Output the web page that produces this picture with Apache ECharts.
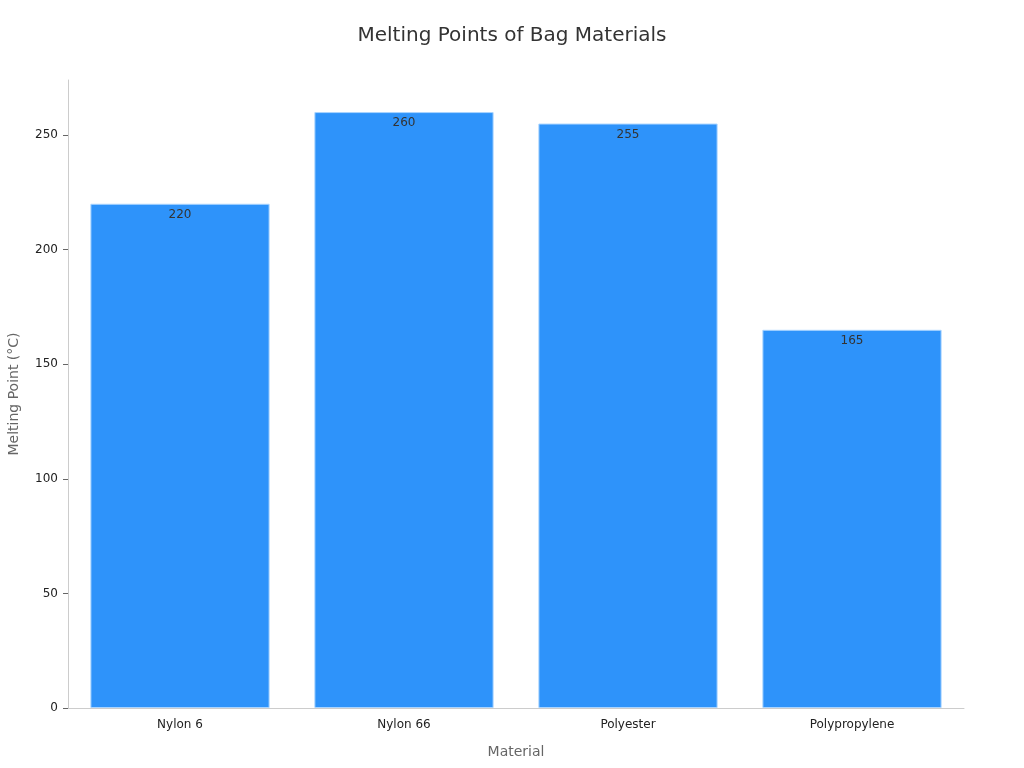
<!DOCTYPE html>
<html><head><meta charset="utf-8">
<script src="https://cdn.jsdelivr.net/npm/echarts@6/dist/echarts.min.js"></script>
<style>html,body{margin:0;padding:0;background:#fff}#c{width:1024px;height:768px}</style>
</head><body><div id="c"></div>
<script>
const categories = ['Nylon 6', 'Nylon 66', 'Polyester', 'Polypropylene'];
const meltingPoints = [220, 260, 255, 165];
const yTicks = [0, 50, 100, 150, 200, 250];

const chart = echarts.init(document.getElementById('c'));
chart.setOption({
  backgroundColor: '#fff',
  textStyle: { fontFamily: 'DejaVu Sans' },
  title: {
    text: 'Melting Points of Bag Materials', left: 'center', top: 21,
    textStyle: { fontSize: 20, fontWeight: 'normal', color: '#333', fontFamily: 'DejaVu Sans' }
  },
  grid: { left: 68, right: 60, top: 80, bottom: 60, outerBoundsMode: 'none', containLabel: false },
  xAxis: {
    type: 'category', data: categories,
    name: 'Material', nameLocation: 'middle', nameGap: 37,
    nameTextStyle: { fontSize: 14, color: '#666' },
    axisLine: { lineStyle: { color: '#ccc' } },
    axisTick: { alignWithLabel: true, lineStyle: { color: '#666' } },
    axisLabel: { color: '#222', fontSize: 12, margin: 11 }
  },
  yAxis: {
    type: 'value', min: 0, max: 274, interval: 50,
    name: 'Melting Point (°C)', nameLocation: 'middle', nameGap: 47,
    nameTextStyle: { fontSize: 14, color: '#666' },
    axisLine: { show: true, lineStyle: { color: '#ccc' } },
    axisTick: { show: true, lineStyle: { color: '#666' } },
    splitLine: { show: false },
    axisLabel: { color: '#222', fontSize: 12, margin: 10, showMaxLabel: false,
      formatter: v => yTicks.includes(v) ? String(v) : '' }
  },
  series: [{
    type: 'bar', data: meltingPoints, barCategoryGap: '20%',
    itemStyle: { color: '#2E93FA', borderColor: '#a9d4ff', borderWidth: 1 },
    label: { show: true, position: 'insideTop', offset: [0, 0], color: '#333', fontSize: 12 }
  }]
});
</script></body></html>
